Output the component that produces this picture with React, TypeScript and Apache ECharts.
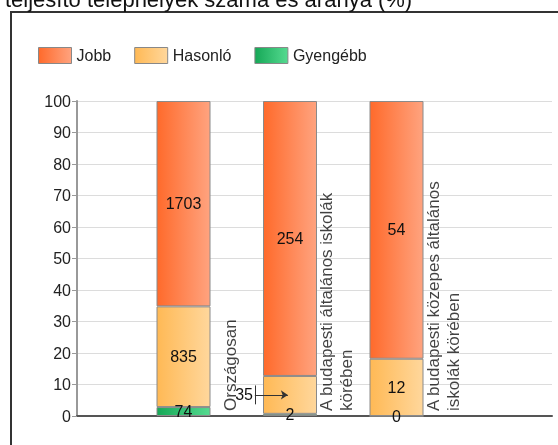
import React, { useEffect, useRef } from 'react';
import * as echarts from 'echarts';

const titleText = 'teljesítő telephelyek száma és aránya (%)';
const categories = [
  'Országosan',
  'A budapesti általános iskolák\nkörében',
  'A budapesti közepes általános\niskolák körében',
];
const seriesNames = ['Jobb', 'Hasonló', 'Gyengébb'];
const jobb = [1703, 254, 54];
const hasonlo = [835, 35, 12];
const gyengebb = [74, 2, 0];
const yMin = 0;
const yMax = 100;
const yInterval = 10;

export default function App() {
  const ref = useRef<HTMLDivElement>(null);
  useEffect(() => {
    const chart = echarts.init(ref.current!, null, { renderer: 'svg' });
    const totals = categories.map((_, i) => jobb[i] + hasonlo[i] + gyengebb[i]);
    const pct = (arr: number[]) => arr.map((v, i) => (v / totals[i]) * 100);
    const pJ = pct(jobb);
    const pH = pct(hasonlo);
    const pG = pct(gyengebb);
    const grad = (a: string, b: string) =>
      new echarts.graphic.LinearGradient(0, 0, 1, 0, [
        { offset: 0, color: a },
        { offset: 1, color: b },
      ]);
    const font = 'Liberation Sans';
    const barLabel = (counts: number[]) => ({
      show: true,
      position: 'inside',
      color: '#111',
      fontSize: 16,
      fontFamily: font,
      formatter: (p: any) => String(counts[p.dataIndex]),
    });
    const common = {
      type: 'bar',
      stack: 'total',
      barWidth: 54,
      xAxisIndex: 1,
      yAxisIndex: 1,
      itemStyle: { borderColor: '#8a8a8a', borderWidth: 1 },
    };
    // outer value axis: category i sits at i + 1
    const pos = categories.map((_, i) => i + 1);
    const midH = pG[1] + pH[1] / 2;
    const arrowStart = pos[1] - 0.33;
    const arrowEnd = pos[1] - 0.02;

    const top = 101;
    const bottom = 29;

    chart.setOption({
      animation: false,
      textStyle: { fontFamily: font },
      title: {
        text: titleText,
        left: 0,
        top: -17,
        textStyle: { fontSize: 22, fontWeight: 'normal', color: '#111', fontFamily: font },
      },
      graphic: [
        {
          type: 'rect',
          shape: { x: 11, y: 12, width: 560, height: 460 },
          style: { fill: 'none', stroke: '#333', lineWidth: 2 },
          silent: true,
        },
      ],
      legend: {
        data: seriesNames,
        left: 38,
        top: 47,
        padding: 0,
        itemWidth: 33,
        itemHeight: 16,
        itemGap: 23,
        icon: 'rect',
        textStyle: { fontSize: 16, color: '#222', fontFamily: font },
        itemStyle: { borderColor: '#888', borderWidth: 1 },
      },
      grid: [
        { left: 77, right: 6, top, bottom },
        { left: 130.25, right: 108.25, top, bottom },
      ],
      xAxis: [
        {
          type: 'value',
          gridIndex: 0,
          min: 0,
          max: 4.46,
          axisLine: { show: true, onZero: false, lineStyle: { color: '#555', width: 2 } },
          axisTick: { show: false },
          axisLabel: { show: false },
          splitLine: { show: false },
        },
        {
          type: 'category',
          gridIndex: 1,
          data: categories,
          axisLine: { show: false },
          axisTick: { show: false },
          axisLabel: { show: false },
          splitLine: { show: false },
        },
      ],
      yAxis: [
        {
          type: 'value',
          gridIndex: 0,
          min: yMin,
          max: yMax,
          interval: yInterval,
          axisLine: { show: true, lineStyle: { color: '#999', width: 2 } },
          axisTick: { show: true, length: 5, lineStyle: { color: '#999', width: 1 } },
          axisLabel: { fontSize: 16, color: '#222', margin: 6, fontFamily: font },
          splitLine: { show: true, lineStyle: { color: '#dcdcdc', width: 1 } },
        },
        {
          type: 'value',
          gridIndex: 1,
          min: yMin,
          max: yMax,
          interval: yInterval,
          show: false,
        },
      ],
      series: [
        {
          ...common,
          name: 'Gyengébb',
          itemStyle: { ...common.itemStyle, color: grad('#16a857', '#55da90') },
          label: barLabel(gyengebb),
          data: pG,
        },
        {
          ...common,
          name: 'Hasonló',
          itemStyle: { ...common.itemStyle, color: grad('#ffb955', '#ffd79c') },
          label: barLabel(hasonlo),
          data: pH.map((v, i) =>
            i === 1 ? { value: v, label: { position: 'left', distance: 10 } } : v
          ),
        },
        {
          ...common,
          name: 'Jobb',
          itemStyle: { ...common.itemStyle, color: grad('#ff6a2b', '#ffa37f') },
          label: barLabel(jobb),
          data: pJ,
        },
        {
          type: 'scatter',
          name: 'kategóriák',
          xAxisIndex: 0,
          yAxisIndex: 0,
          symbolSize: 1,
          itemStyle: { color: 'transparent' },
          silent: true,
          z: 5,
          label: {
            show: true,
            position: 'inside',
            rotate: 90,
            align: 'left',
            verticalAlign: 'middle',
            fontSize: 17,
            lineHeight: 20,
            color: '#111',
            fontFamily: font,
            padding: [0, 0, 0, 5],
            formatter: (p: any) => categories[p.dataIndex],
          },
          data: pos.map((x) => [x + 0.44, 0]),
          markLine: {
            silent: true,
            animation: false,
            symbol: ['none', 'arrow'],
            symbolSize: 7,
            label: { show: false },
            lineStyle: { color: '#333', type: 'solid', width: 1 },
            data: [
              [{ coord: [arrowStart, midH] }, { coord: [arrowEnd, midH] }],
              [
                { coord: [arrowStart, midH - 3] },
                { coord: [arrowStart, midH + 3], symbol: 'none' },
              ],
            ],
          },
        },
      ],
    });
    return () => chart.dispose();
  }, []);
  return (
    <div
      ref={ref}
      style={{ position: 'fixed', left: 0, top: 0, width: 558, height: 445 }}
    />
  );
}
